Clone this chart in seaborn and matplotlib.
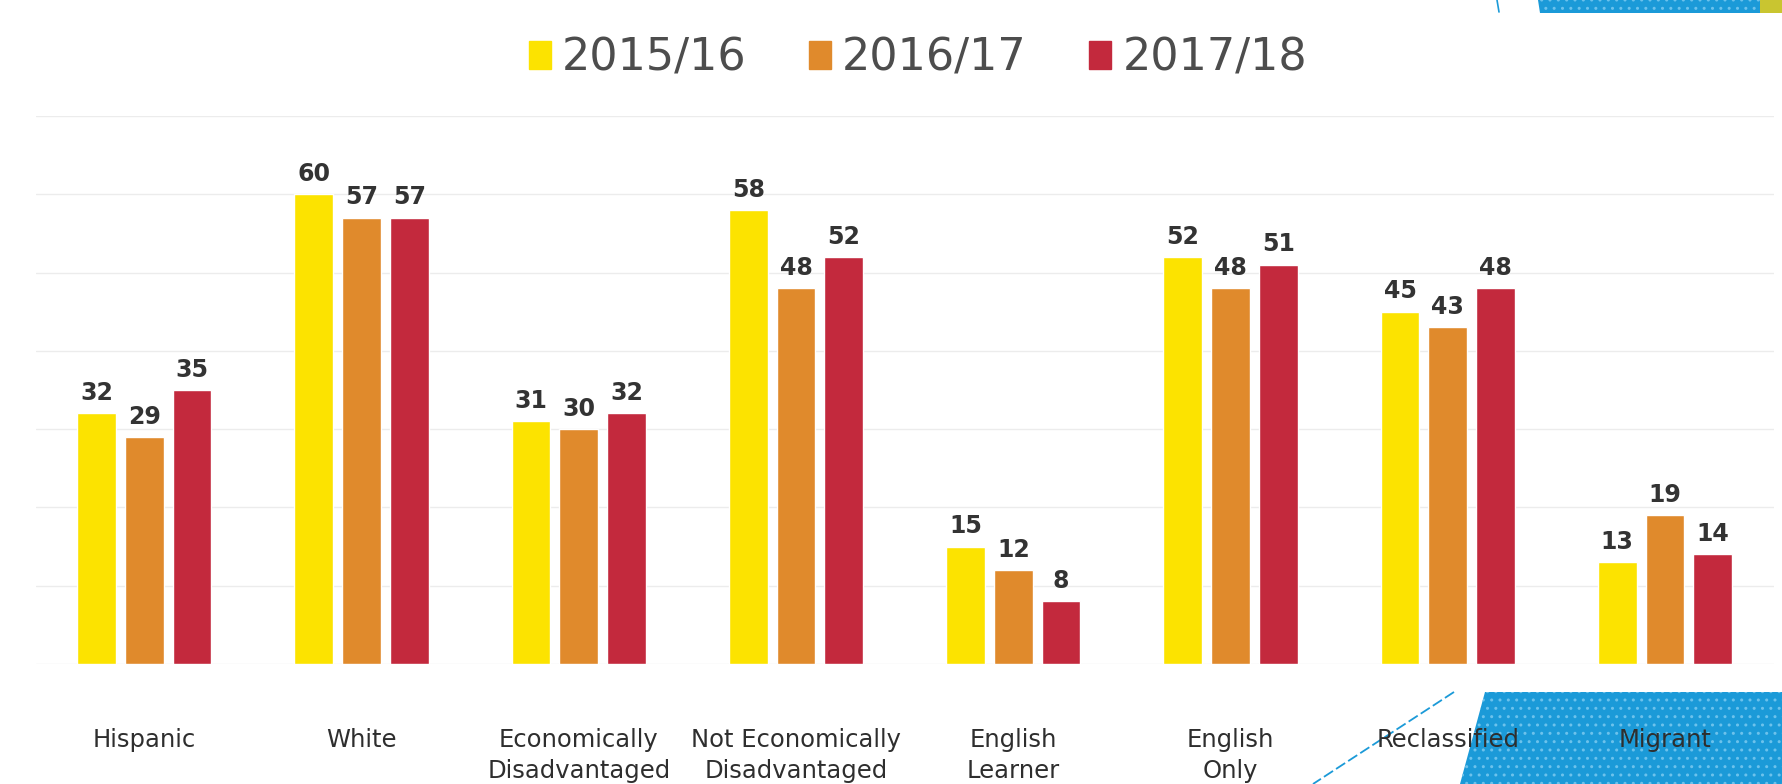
import matplotlib
matplotlib.use("Agg")
import matplotlib.pyplot as plt
from matplotlib.patches import Polygon
from matplotlib.lines import Line2D
import seaborn as sns
import pandas as pd

# Student groups and yearly values
groups = ["Hispanic", "White", "Economically\nDisadvantaged", "Not Economically\nDisadvantaged",
          "English\nLearner", "English\nOnly", "Reclassified", "Migrant"]
years = ["2015/16", "2016/17", "2017/18"]
vals_2015_16 = [32, 60, 31, 58, 15, 52, 45, 13]
vals_2016_17 = [29, 57, 30, 48, 12, 48, 43, 19]
vals_2017_18 = [35, 57, 32, 52, 8, 51, 48, 14]
year_colors = ["#FCE300", "#E08A2C", "#C3293D"]

rows = []
for year, series in zip(years, [vals_2015_16, vals_2016_17, vals_2017_18]):
    for g, v in zip(groups, series):
        rows.append({"group": g, "year": year, "value": v})
df = pd.DataFrame(rows)

sns.set_theme(style="white")
plt.rcParams["font.family"] = ["DejaVu Sans"]

W, H = 1782, 784
fig = plt.figure(figsize=(W / 100, H / 100), dpi=100)
fig.patch.set_facecolor("white")

ax = fig.add_axes([35.7 / W, 120 / H, 1737.9 / W, 548 / H])
ax.set_facecolor("none")

sns.barplot(data=df, x="group", y="value", hue="year", order=groups, hue_order=years,
            palette=year_colors, width=0.66, gap=0.19, saturation=1, ax=ax,
            legend=True, zorder=3)

ax.set_xlim(-0.5, len(groups) - 0.5)
ax.set_ylim(0, 70)
ax.set_yticks(range(0, 71, 10))
ax.yaxis.grid(True, color="#ececec", linewidth=1.0, zorder=0)
ax.xaxis.grid(False)
ax.set_axisbelow(True)
for s in ax.spines.values():
    s.set_visible(False)
ax.set_yticklabels([])
ax.tick_params(axis="y", length=0)
ax.tick_params(axis="x", length=0, pad=46, labelsize=17.5, labelcolor="#2e2e2e")
for lbl in ax.get_xticklabels():
    lbl.set_linespacing(1.4)
ax.set_xlabel("")
ax.set_ylabel("")

for cont in ax.containers:
    ax.bar_label(cont, fmt="%d", padding=6, fontsize=17, fontweight="bold", color="#333333")

# Legend across the top
handles = [plt.Rectangle((0, 0), 1, 1, color=c) for c in year_colors]
ax.get_legend().remove()
fig.legend(handles, years, loc="center", bbox_to_anchor=(0.515, 0.926), ncol=3,
           frameon=False, fontsize=32, labelcolor="#4d4d4d",
           handlelength=0.5, handleheight=0.6, handletextpad=0.25, columnspacing=1.4)

# Slide decoration: blue textured corner shapes
def px(x, y):
    return (x / W, 1 - y / H)

blue = "#1B9AD8"
plt.rcParams["hatch.linewidth"] = 1.0
corner = Polygon([px(1485, 692), px(1782, 692), px(1782, 784), px(1460, 784)],
                 closed=True, transform=fig.transFigure, facecolor=blue,
                 edgecolor="#6cc2ec", hatch="..", linewidth=0, zorder=-1)
fig.patches.append(corner)

strip = Polygon([px(1538, 0), px(1782, 0), px(1782, 13), px(1540, 13)],
                closed=True, transform=fig.transFigure, facecolor=blue,
                edgecolor="#6cc2ec", hatch="..", linewidth=0, zorder=-1)
fig.patches.append(strip)
tip = Polygon([px(1760, 0), px(1782, 0), px(1782, 13), px(1760, 13)],
              closed=True, transform=fig.transFigure, facecolor="#C9C530",
              linewidth=0, zorder=-1)
fig.patches.append(tip)

x0, y0 = px(1454, 692)
x1, y1 = px(1313, 784)
fig.lines.append(Line2D([x0, x1], [y0, y1], transform=fig.transFigure, color=blue,
                        linewidth=1.3, linestyle=(0, (6, 2)), zorder=-1))
x0, y0 = px(1497, 0)
x1, y1 = px(1499, 12)
fig.lines.append(Line2D([x0, x1], [y0, y1], transform=fig.transFigure, color=blue,
                        linewidth=1.2, zorder=-1))

fig.savefig("out.png", dpi=100, facecolor="white")
